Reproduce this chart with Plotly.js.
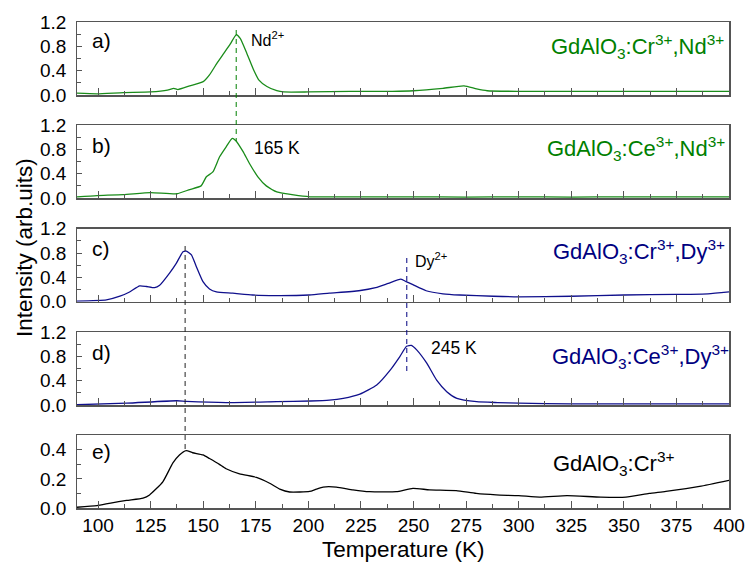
<!DOCTYPE html>
<html><head><meta charset="utf-8">
<script src="https://cdn.plot.ly/plotly-3.0.1.min.js"></script>
<style>html,body{margin:0;padding:0;background:#fff}#chart{width:748px;height:563px}</style>
</head><body><div id="chart"></div>
<script>
// Panel a) GdAlO3:Cr3+,Nd3+
var tempA = [90, 99.5, 112, 125, 133, 136, 138, 143.6, 150, 153, 156.5, 159.7, 162.9, 165.7, 167.6, 170.8, 174, 176.4, 180.3, 185, 188.3, 200, 220, 240, 250, 264, 274, 280, 285, 300, 325, 350, 375, 400];
var intA  = [0.03, 0.02, 0.04, 0.05, 0.08, 0.11, 0.09, 0.15, 0.22, 0.33, 0.52, 0.68, 0.84, 0.99, 0.93, 0.68, 0.41, 0.25, 0.14, 0.07, 0.05, 0.05, 0.06, 0.06, 0.07, 0.11, 0.15, 0.10, 0.07, 0.06, 0.06, 0.06, 0.06, 0.06];
// Panel b) GdAlO3:Ce3+,Nd3+
var tempB = [90, 99.5, 112, 125, 137.5, 143.6, 149, 151.5, 154.6, 157.8, 161, 163.8, 165.4, 168.9, 172, 176, 180, 185, 193, 200.8, 225, 250, 275, 300, 325, 350, 375, 400];
var intB  = [0.02, 0.04, 0.055, 0.09, 0.07, 0.14, 0.20, 0.35, 0.43, 0.68, 0.85, 0.985, 0.95, 0.77, 0.57, 0.35, 0.20, 0.10, 0.05, 0.02, 0.02, 0.02, 0.015, 0.02, 0.015, 0.02, 0.02, 0.02];
// Panel c) GdAlO3:Cr3+,Dy3+
var tempC = [90, 104, 110.4, 115, 119.8, 123, 126.9, 129.3, 134, 137.2, 140.4, 142, 144.4, 146.7, 149.9, 153, 156.3, 164, 173.5, 184.6, 200.4, 210, 224, 232, 238, 244, 246.5, 249.7, 256, 264, 272, 288, 300, 325, 350, 375, 390, 400];
var intC  = [0.01, 0.03, 0.09, 0.16, 0.26, 0.25, 0.23, 0.27, 0.47, 0.63, 0.82, 0.83, 0.77, 0.58, 0.33, 0.21, 0.16, 0.14, 0.11, 0.10, 0.11, 0.14, 0.18, 0.23, 0.30, 0.37, 0.33, 0.28, 0.18, 0.13, 0.11, 0.09, 0.08, 0.09, 0.11, 0.12, 0.13, 0.16];
// Panel d) GdAlO3:Ce3+,Dy3+
var tempD = [90, 113.6, 137.4, 142, 161, 185, 201, 210, 216.6, 224.5, 232.5, 239, 243.5, 246.7, 249, 251.5, 256.3, 261, 265.8, 270.6, 280, 290, 300, 325, 350, 375, 400];
var intD  = [0.005, 0.03, 0.07, 0.06, 0.04, 0.055, 0.066, 0.08, 0.11, 0.18, 0.33, 0.58, 0.80, 0.97, 0.985, 0.91, 0.69, 0.41, 0.22, 0.11, 0.055, 0.04, 0.03, 0.02, 0.02, 0.02, 0.02];
// Panel e) GdAlO3:Cr3+
var tempE = [90, 99.5, 106, 113.6, 121.4, 124.5, 130.8, 135.6, 138.7, 141.9, 145, 149.9, 153, 157.7, 160.9, 167.3, 175.3, 181.6, 186.4, 191.1, 200.6, 203.8, 207, 213.3, 221.2, 229.1, 241.8, 249.7, 257.6, 270.3, 279.8, 289.3, 300, 310, 323, 339, 351, 362, 370, 386, 400];
var intE  = [0.005, 0.016, 0.034, 0.052, 0.068, 0.09, 0.18, 0.31, 0.365, 0.395, 0.38, 0.365, 0.34, 0.30, 0.27, 0.235, 0.21, 0.17, 0.13, 0.11, 0.114, 0.13, 0.144, 0.144, 0.125, 0.112, 0.112, 0.135, 0.125, 0.12, 0.10, 0.09, 0.085, 0.075, 0.085, 0.075, 0.075, 0.10, 0.114, 0.148, 0.19];

var xTicks = [100, 125, 150, 175, 200, 225, 250, 275, 300, 325, 350, 375, 400];
var peakNd = 165.7, peakCr = 141.4, peakDy = 246.8;

var GREEN = '#008000', GREEN_LINE = '#1a8c1a', BLUE = '#000080', BLUE_LINE = '#10108c', BLACK = '#000000';
var FONT = 'Arial, "Liberation Sans", sans-serif';

// pixel helpers (plot area 77..729 x 22..508)
var L = 77, R = 19, T = 22, B = 55, W = 748 - L - R, H = 563 - T - B;
function px(p) { return (p - L) / W; }
function py(p) { return 1 - (p - T) / H; }

var panelsPx = [[22, 95], [125.3, 198], [228.7, 301.7], [332.3, 405], [435.3, 508.3]];

var AX = '#555';
function xa(i, labels) {
  return {
    anchor: 'y' + (i === 1 ? '' : i), domain: [0, 1], range: [90, 400],
    tickmode: 'array', tickvals: xTicks, ticktext: xTicks.map(String),
    ticks: 'inside', ticklen: 7, tickwidth: 1, tickcolor: AX,
    showline: true, linecolor: AX, linewidth: 1.5, mirror: true,
    showgrid: false, zeroline: false, showticklabels: labels,
    tickfont: {size: 19, family: FONT, color: '#000'},
    minor: {ticks: 'inside', ticklen: 4, dtick: 12.5, tick0: 0, tickcolor: AX, showgrid: false},
    matches: i === 5 ? undefined : 'x5'
  };
}
function ya(i, top, dtick, minorDtick) {
  var d = panelsPx[i - 1];
  return {
    anchor: 'x' + (i === 1 ? '' : i), domain: [Math.max(0, py(d[1])), Math.min(1, py(d[0]))],
    range: [0, top], dtick: dtick, tick0: 0, tickformat: '.1f', ticksuffix: '\u00a0',
    ticks: 'inside', ticklen: 5, tickwidth: 1, tickcolor: AX,
    showline: true, linecolor: AX, linewidth: 1.5, mirror: true,
    showgrid: false, zeroline: false,
    tickfont: {size: 19, family: FONT, color: '#000'},
    minor: {ticks: 'inside', ticklen: 4, dtick: minorDtick, tick0: 0, tickcolor: AX, showgrid: false}
  };
}

var series = [[tempA, intA, GREEN_LINE], [tempB, intB, GREEN_LINE], [tempC, intC, BLUE_LINE], [tempD, intD, BLUE_LINE], [tempE, intE, BLACK]];
var data = series.map(function (s, k) {
  var i = k + 1;
  return {x: s[0], y: s[1], type: 'scatter', mode: 'lines', line: {color: s[2], width: 1.3, shape: 'spline', smoothing: 0.5},
          xaxis: 'x' + (i === 1 ? '' : i), yaxis: 'y' + (i === 1 ? '' : i), showlegend: false, hoverinfo: 'skip'};
});

var layout = {
  width: 748, height: 563,
  margin: {l: L, r: R, t: T, b: B},
  paper_bgcolor: '#fff', plot_bgcolor: 'rgba(0,0,0,0)',
  font: {family: FONT, color: '#000'},
  showlegend: false,
  xaxis: xa(1, false), xaxis2: xa(2, false), xaxis3: xa(3, false), xaxis4: xa(4, false), xaxis5: xa(5, true),
  yaxis: ya(1, 1.2001, 0.4, 0.2), yaxis2: ya(2, 1.2001, 0.4, 0.2), yaxis3: ya(3, 1.2001, 0.4, 0.2), yaxis4: ya(4, 1.2001, 0.4, 0.2), yaxis5: ya(5, 0.5, 0.2, 0.1),
  shapes: [
    {type: 'line', xref: 'x5', yref: 'paper', x0: peakNd, x1: peakNd, y0: py(30), y1: py(141), line: {color: GREEN, width: 1, dash: '5px,4px'}},
    {type: 'line', xref: 'x5', yref: 'paper', x0: peakCr, x1: peakCr, y0: py(246), y1: py(450), line: {color: '#222', width: 1, dash: '5px,4px'}},
    {type: 'line', xref: 'x5', yref: 'paper', x0: peakDy, x1: peakDy, y0: py(258), y1: py(373), line: {color: BLUE, width: 1, dash: '5px,4px'}}
  ],
  annotations: []
};

function ann(text, xp, yp, size, color, xanchor) {
  layout.annotations.push({text: text, xref: 'paper', yref: 'paper', x: px(xp), y: py(yp), xanchor: xanchor || 'left', yanchor: 'middle',
    showarrow: false, font: {size: size, color: color, family: FONT}});
}
// panel letters
ann('a)', 90, 41, 21, '#000'); ann('b)', 90, 145, 21, '#000'); ann('c)', 90, 249, 21, '#000'); ann('d)', 90, 352, 21, '#000'); ann('e)', 90, 451, 21, '#000');
// peak labels
ann('Nd<sup>2+</sup>', 249, 39, 16, '#000');
ann('165 K', 252, 148, 17.5, '#000');
ann('Dy<sup>2+</sup>', 413, 260, 16, '#000');
ann('245 K', 429, 348, 17.5, '#000');
// sample labels
ann('GdAlO<sub>3</sub>:Cr<sup>3+</sup>,Nd<sup>3+</sup>', 726, 46, 22, GREEN, 'right');
ann('GdAlO<sub>3</sub>:Ce<sup>3+</sup>,Nd<sup>3+</sup>', 727, 148, 22, GREEN, 'right');
ann('GdAlO<sub>3</sub>:Cr<sup>3+</sup>,Dy<sup>3+</sup>', 727, 251, 22, BLUE, 'right');
ann('GdAlO<sub>3</sub>:Ce<sup>3+</sup>,Dy<sup>3+</sup>', 731, 356, 22, BLUE, 'right');
ann('GdAlO<sub>3</sub>:Cr<sup>3+</sup>', 551, 463, 22, '#000');
// axis titles
layout.annotations.push({text: 'Temperature (K)', xref: 'paper', yref: 'paper', x: px(403), y: py(549), xanchor: 'center', yanchor: 'middle', showarrow: false, font: {size: 22.5, family: FONT, color: '#000'}});
layout.annotations.push({text: 'Intensity (arb.uits)', xref: 'paper', yref: 'paper', x: px(24), y: py(248), xanchor: 'center', yanchor: 'middle', textangle: -90, showarrow: false, font: {size: 22.5, family: FONT, color: '#000'}});

Plotly.newPlot('chart', data, layout, {displayModeBar: false, staticPlot: true});
</script></body></html>
